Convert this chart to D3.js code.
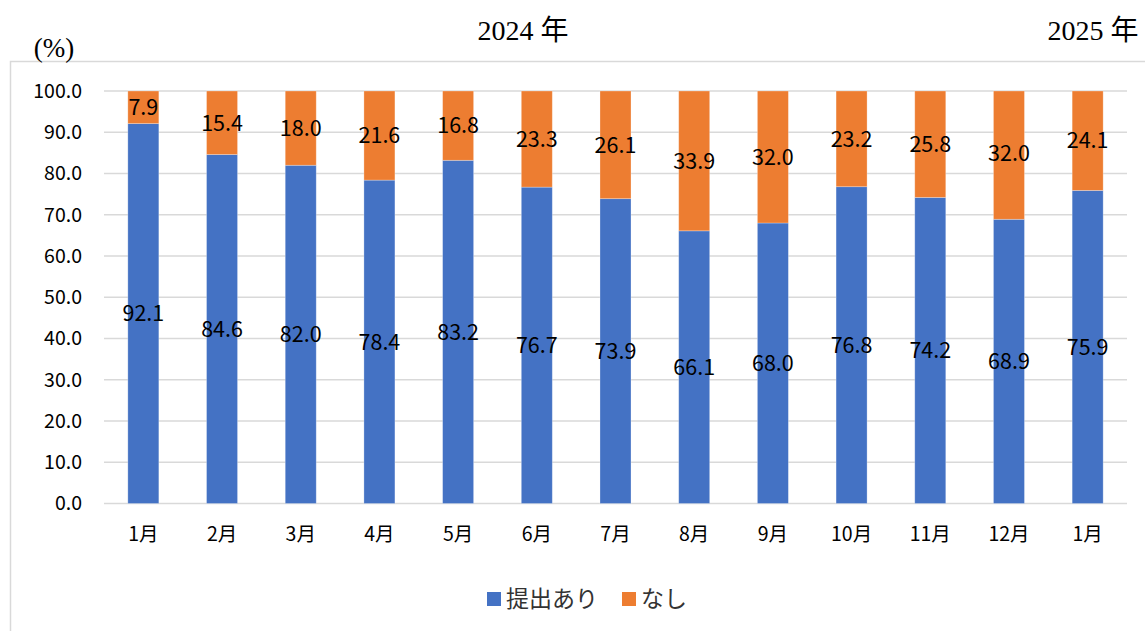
<!DOCTYPE html>
<html><head><meta charset="utf-8">
<script src="https://cdn.jsdelivr.net/npm/d3@7"></script>
<style>body{margin:0;background:#fff}</style>
</head><body>
<script>
const categories = ["1月","2月","3月","4月","5月","6月","7月","8月","9月","10月","11月","12月","1月"];
const submitted = [92.1,84.6,82.0,78.4,83.2,76.7,73.9,66.1,68.0,76.8,74.2,68.9,75.9];
const none = [7.9,15.4,18.0,21.6,16.8,23.3,26.1,33.9,32.0,23.2,25.8,32.0,24.1];
const yTicks = [0,10,20,30,40,50,60,70,80,90,100];
const seriesNames = ["提出あり","なし"];
const colors = ["#4472C4","#ED7D31"];

const W=1145,H=631;
const svg=d3.select("body").append("svg").attr("width",W).attr("height",H);
const font='"Noto Sans CJK JP","Noto Sans",sans-serif';
const serif='"Liberation Serif","DejaVu Serif","Noto Sans CJK JP",serif';

svg.append("rect").attr("x",10.5).attr("y",61.5).attr("width",1300).attr("height",800)
  .attr("fill","none").attr("stroke","#D9D9D9").attr("stroke-width",1.5);

const x=d3.scaleBand().domain(d3.range(categories.length)).range([104,1127]).paddingInner(0.606).paddingOuter(0.303);
const y=d3.scaleLinear().domain([0,100]).range([503.5,91]).clamp(true);

// gridlines
svg.append("g").selectAll("line").data(yTicks).join("line")
  .attr("x1",104).attr("x2",1127).attr("y1",d=>y(d)).attr("y2",d=>y(d))
  .attr("stroke","#D9D9D9").attr("stroke-width",1.5);

// y axis labels
const yAxis=d3.axisLeft(y).tickValues(yTicks).tickFormat(d3.format(".1f")).tickSize(0).tickPadding(0);
const yg=svg.append("g").attr("transform","translate(82,0)").call(yAxis);
yg.select(".domain").remove();
yg.selectAll("text").attr("font-family",font).attr("font-size",19.5).attr("fill","#000");

// x axis labels
const xAxis=d3.axisBottom(x).tickFormat(i=>categories[i]).tickSize(0).tickPadding(0);
const xg=svg.append("g").attr("transform","translate(0,527)").call(xAxis);
xg.select(".domain").remove();
xg.selectAll("text").attr("font-family",font).attr("font-size",19.5).attr("fill","#000");

const stacked=categories.map((c,i)=>[[0,submitted[i]],[submitted[i],submitted[i]+none[i]]]);
const vals=[submitted,none];
[0,1].forEach(s=>{
  svg.append("g").selectAll("rect").data(categories.map((c,i)=>i)).join("rect")
    .attr("x",i=>x(i)).attr("width",x.bandwidth())
    .attr("y",i=>y(stacked[i][s][1])).attr("height",i=>y(stacked[i][s][0])-y(stacked[i][s][1]))
    .attr("fill",colors[s]).attr("stroke","#fff").attr("stroke-opacity",0.35).attr("stroke-width",0.8);
});
[0,1].forEach(s=>{
  svg.append("g").selectAll("text").data(categories.map((c,i)=>i)).join("text")
    .attr("x",i=>x(i)+x.bandwidth()/2)
    .attr("y",i=>y((stacked[i][s][0]+stacked[i][s][1])/2))
    .attr("dy","0.36em").attr("text-anchor","middle")
    .attr("font-family",font).attr("font-size",21.5).attr("fill","#000")
    .text(i=>vals[s][i].toFixed(1));
});

// titles
svg.append("text").attr("x",54).attr("y",57).attr("text-anchor","middle").attr("font-family",serif).attr("font-size",27).text("(%)");
svg.append("text").attr("x",523).attr("y",40).attr("text-anchor","middle").attr("font-family",serif).attr("font-size",28).text("2024 年");
svg.append("text").attr("x",1093).attr("y",40).attr("text-anchor","middle").attr("font-family",serif).attr("font-size",28).text("2025 年");

// legend
const leg=svg.append("g");
const legX=[487,622];
seriesNames.forEach((n,i)=>{
  leg.append("rect").attr("x",legX[i]).attr("y",592).attr("width",14).attr("height",14).attr("fill",colors[i]);
  leg.append("text").attr("x",legX[i]+19).attr("y",599).attr("dy","0.36em").attr("font-family",font).attr("font-size",23).attr("fill","#333").text(n);
});
</script>
</body></html>
